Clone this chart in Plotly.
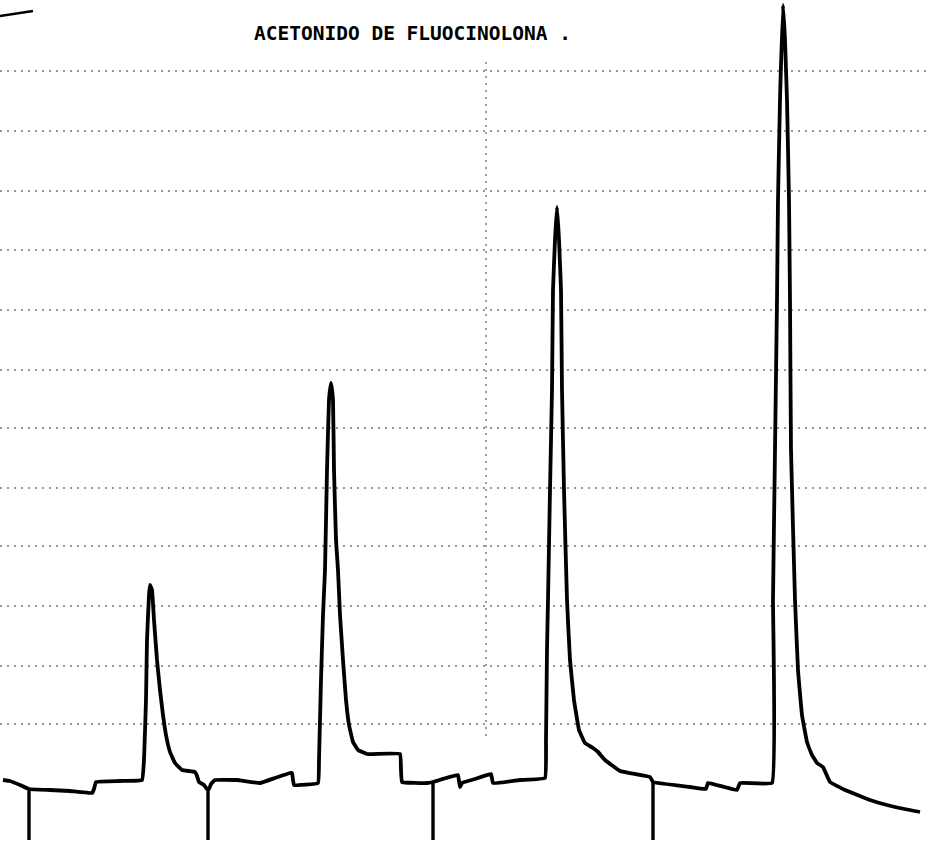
import plotly.graph_objects as go

W, H = 928, 845

pos_px = [3, 10, 20, 29, 50, 70, 92, 94, 96, 120, 142, 144, 146, 147, 149, 150, 152, 154, 157, 160, 163, 166,
          170, 175, 182, 195, 197, 199, 204, 207, 209, 211, 215, 237, 260, 275, 290, 292, 294, 318,
          319, 321, 323, 325, 327, 329, 331, 333, 334, 336, 338, 340, 343, 346, 349, 353, 358, 367, 400, 401, 402,
          427, 433, 458, 459, 460, 462, 475, 491, 493, 520, 545,
          546, 547, 548, 550, 552, 553, 555, 557, 559, 561, 562, 564, 567, 570, 574, 579, 585, 593, 598, 605,
          620, 650, 653, 690, 706, 708, 737, 740, 772,
          773, 775, 777, 778, 780, 783, 785, 787, 789, 790, 791, 795, 798, 802, 807, 812, 817, 823, 830, 845,
          870, 895, 920]
pen_y_px = [780, 781, 785, 789, 790, 791, 793, 789, 782, 781, 780, 760, 700, 640, 595, 585, 590, 620, 660, 690, 715, 735,
            752, 763, 770, 772, 776, 782, 785, 789, 789, 784, 780, 780, 783, 778, 773, 773, 785, 783,
            760, 680, 615, 570, 470, 400, 383, 400, 470, 540, 570, 615, 660, 700, 725, 742, 750, 754, 754, 770, 782,
            783, 782, 775, 781, 787, 783, 779, 774, 783, 780, 778,
            740, 650, 600, 490, 390, 290, 240, 207, 240, 290, 390, 490, 600, 660, 700, 730, 743, 748, 752, 760,
            771, 777, 782, 787, 789, 783, 790, 783, 783,
            600, 450, 300, 200, 100, 5, 40, 100, 200, 300, 450, 600, 670, 715, 742, 755, 763, 767, 782, 790,
            800, 807, 812]

# Event marks below the baseline
mark_pos = [29, 208, 433, 653]
mark_top = [789, 788, 783, 782]
mark_bottom = [840, 840, 840, 840]

# Chart paper grid (dotted)
grid_rows = [71, 131, 191, 250, 310, 370, 428, 488, 546, 606, 666, 724]
grid_col = 486
grid_col_span = [62, 738]

title_text = "ACETONIDO DE FLUOCINOLONA ."

pen = [H - v for v in pen_y_px]

fig = go.Figure()

grid_style = dict(color="rgba(0,0,0,0.55)", width=1.4, dash="2px,5px")
for r in grid_rows:
    fig.add_trace(go.Scatter(x=[0, W], y=[H - r, H - r], mode="lines", line=grid_style,
                             hoverinfo="skip", showlegend=False))
fig.add_trace(go.Scatter(x=[grid_col, grid_col], y=[H - grid_col_span[0], H - grid_col_span[1]], mode="lines",
                         line=grid_style, hoverinfo="skip", showlegend=False))

# top-left stroke
fig.add_trace(go.Scatter(x=[0, 33], y=[H - 16, H - 11], mode="lines",
                         line=dict(color="black", width=2.5), hoverinfo="skip", showlegend=False))

# event marks
mx, my = [], []
for p, t, b in zip(mark_pos, mark_top, mark_bottom):
    mx += [p, p, None]
    my += [H - t, H - b, None]
fig.add_trace(go.Scatter(x=mx, y=my, mode="lines", line=dict(color="black", width=3.4),
                         hoverinfo="skip", showlegend=False))

# chromatogram
fig.add_trace(go.Scatter(x=pos_px, y=pen, mode="lines",
                         line=dict(color="black", width=3.8, shape="spline", smoothing=0.25),
                         hoverinfo="skip", showlegend=False))

fig.add_annotation(x=412, y=H - 33, text="<b>" + title_text + "</b>", showarrow=False,
                   xanchor="center", yanchor="middle",
                   font=dict(family="DejaVu Sans Mono, monospace", size=19.5, color="black"))

fig.update_layout(width=W, height=H, margin=dict(l=0, r=0, t=0, b=0),
                  paper_bgcolor="white", plot_bgcolor="white",
                  xaxis=dict(range=[0, W], visible=False, fixedrange=True),
                  yaxis=dict(range=[0, H], visible=False, fixedrange=True))

fig.write_html("out.html")
